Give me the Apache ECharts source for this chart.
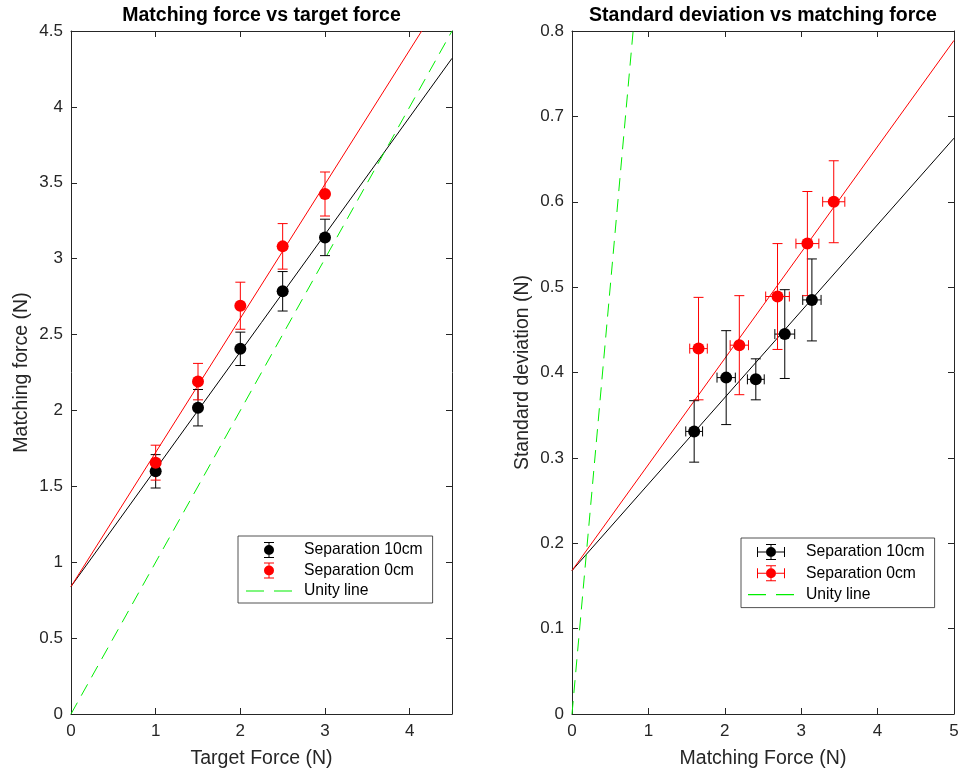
<!DOCTYPE html>
<html>
<head>
<meta charset="utf-8">
<script src="https://cdn.jsdelivr.net/npm/echarts@6/dist/echarts.min.js"></script>
<style>
html,body{margin:0;padding:0;background:#fff;}
#chart{width:966px;height:774px;}
</style>
</head>
<body>
<div id="chart"></div>
<script>
// ---- Data ----
const targetForce = [1, 1.5, 2, 2.5, 3];
const match10 = [1.599, 2.018, 2.406, 2.785, 3.140];
const match10Err = [0.11, 0.12, 0.11, 0.13, 0.12];
const match0 = [1.656, 2.190, 2.690, 3.081, 3.426];
const match0Err = [0.115, 0.12, 0.155, 0.15, 0.145];
const sd10 = [0.331, 0.394, 0.392, 0.445, 0.485];
const sd10Err = [0.036, 0.055, 0.024, 0.052, 0.048];
const sd0 = [0.428, 0.432, 0.489, 0.551, 0.600];
const sd0Err = [0.060, 0.058, 0.062, 0.061, 0.048];

// fitted / reference lines (endpoints)
const fit10LeftX = [0, 4.5];
const fit10LeftY = [0.840, 4.32];
const fit0LeftX = [0, 4.142];
const fit0LeftY = [0.840, 4.5];
const unityLeftX = [0, 4.5];
const unityLeftY = [0, 4.5];
const fit10RightX = [0, 5];
const fit10RightY = [0.168, 0.6745];
const fit0RightX = [0, 5];
const fit0RightY = [0.168, 0.789];
const unityRightX = [0, 0.8];
const unityRightY = [0, 0.8];

const seriesNames = ['Separation 10cm', 'Separation 0cm', 'Unity line'];

// ---- Helpers ----
const FONT = 'Liberation Sans, Helvetica, Arial, sans-serif';
const AX = '#262626';
function zip2(a, b) { return a.map((v, i) => [v, b[i]]); }
function zip4(a, b, c, d) { return a.map((v, i) => [v, b[i], c[i], d[i]]); }

function errRender(color, withX) {
  return function (params, api) {
    const x = api.value(0), y = api.value(1), ey = api.value(2), ex = api.value(3);
    const top = api.coord([x, y + ey]);
    const bot = api.coord([x, y - ey]);
    const cap = 5;
    const st = { stroke: color, lineWidth: 1 };
    const ch = [
      { type: 'line', shape: { x1: top[0], y1: top[1], x2: bot[0], y2: bot[1] }, style: st },
      { type: 'line', shape: { x1: top[0] - cap, y1: top[1], x2: top[0] + cap, y2: top[1] }, style: st },
      { type: 'line', shape: { x1: bot[0] - cap, y1: bot[1], x2: bot[0] + cap, y2: bot[1] }, style: st }
    ];
    if (withX) {
      const l = api.coord([x - ex, y]);
      const r = api.coord([x + ex, y]);
      ch.push(
        { type: 'line', shape: { x1: l[0], y1: l[1], x2: r[0], y2: r[1] }, style: st },
        { type: 'line', shape: { x1: l[0], y1: l[1] - cap, x2: l[0], y2: l[1] + cap }, style: st },
        { type: 'line', shape: { x1: r[0], y1: r[1] - cap, x2: r[0], y2: r[1] + cap }, style: st }
      );
    }
    return { type: 'group', children: ch };
  };
}

const ICON_V = 'path://M0,0h10v1h-10z M4.5,1h1v2h-1z M0,8a5,5 0 1,0 10,0a5,5 0 1,0 -10,0z M4.5,13h1v2h-1z M0,15h10v1h-10z';
const ICON_VH = 'path://M9,0h10v1h-10z M13.5,1h1v2h-1z M9,8a5,5 0 1,0 10,0a5,5 0 1,0 -10,0z M13.5,13h1v2h-1z M9,15h10v1h-10z M0,3h1v10h-1z M1,7.5h8v1h-8z M19,7.5h8v1h-8z M27,3h1v10h-1z';
const ICON_DASH = 'path://M0,0h18v1.1h-18z M28,0h18v1.1h-18z';

const lineOpt = { show: true, onZero: false, lineStyle: { color: AX, width: 1 } };
const tickOpt = { show: true, inside: true, length: 6, lineStyle: { color: AX } };

function mainX(grid, max, name, showMax) {
  return {
    type: 'value', gridIndex: grid, min: 0, max: max, interval: 1, position: 'bottom',
    name: name, nameLocation: 'middle', nameGap: 35,
    nameTextStyle: { fontFamily: FONT, fontSize: 19.5, color: AX },
    axisLine: lineOpt, axisTick: tickOpt,
    axisLabel: { fontFamily: FONT, fontSize: 17, color: AX, margin: 9, showMaxLabel: showMax, showMinLabel: true },
    splitLine: { show: false }
  };
}
function topX(grid, max, title) {
  return {
    type: 'value', gridIndex: grid, min: 0, max: max, interval: 1, position: 'top',
    name: title, nameLocation: 'middle', nameGap: 5,
    nameTextStyle: { fontFamily: FONT, fontSize: 19.5, fontWeight: 'bold', color: '#000', verticalAlign: 'bottom' },
    axisLine: lineOpt, axisTick: tickOpt,
    axisLabel: { show: false },
    splitLine: { show: false }
  };
}
function mainY(grid, max, interval, name) {
  return {
    type: 'value', gridIndex: grid, min: 0, max: max, interval: interval, position: 'left',
    name: name, nameLocation: 'middle', nameGap: 39, nameRotate: 90,
    nameTextStyle: { fontFamily: FONT, fontSize: 19.5, color: AX },
    axisLine: lineOpt, axisTick: tickOpt,
    axisLabel: { fontFamily: FONT, fontSize: 17, color: AX, margin: 8 },
    splitLine: { show: false }
  };
}
function rightY(grid, max, interval) {
  return {
    type: 'value', gridIndex: grid, min: 0, max: max, interval: interval, position: 'right',
    axisLine: lineOpt, axisTick: tickOpt,
    axisLabel: { show: false },
    splitLine: { show: false }
  };
}

function lineSeries(name, xi, yi, xs, ys, color, dashed) {
  return {
    type: 'line', name: name, xAxisIndex: xi, yAxisIndex: yi,
    data: zip2(xs, ys), symbol: 'none', showSymbol: false, silent: true,
    lineStyle: { color: color, width: 1, type: dashed ? [13, 8] : 'solid' },
    itemStyle: { color: color }, z: 3, animation: false
  };
}
function errSeries(name, xi, yi, xs, ys, ey, ex, color, withX) {
  return {
    type: 'custom', name: name, xAxisIndex: xi, yAxisIndex: yi,
    data: zip4(xs, ys, ey, ex), renderItem: errRender(color, withX),
    itemStyle: { color: color }, z: 4, silent: true, animation: false,
    encode: { x: 0, y: 1 }
  };
}
function dotSeries(name, xi, yi, xs, ys, color) {
  return {
    type: 'scatter', name: name, xAxisIndex: xi, yAxisIndex: yi,
    data: zip2(xs, ys), symbol: 'circle', symbolSize: 12,
    itemStyle: { color: color, opacity: 1 }, z: 5, silent: true, animation: false
  };
}

function legend(left, top, icon, gap, padding) {
  return {
    orient: 'vertical', left: left, top: top,
    itemWidth: 46, itemHeight: 16, itemGap: gap,
    padding: padding, borderColor: AX, borderWidth: 0.8, backgroundColor: '#fff',
    selectedMode: false,
    textStyle: { fontFamily: FONT, fontSize: 15.7, color: '#000', lineHeight: 16, padding: [0, 0, 0, 7] },
    data: [
      { name: seriesNames[0], icon: icon, itemStyle: { color: '#000' } },
      { name: seriesNames[1], icon: icon, itemStyle: { color: '#ff0000' } },
      { name: seriesNames[2], icon: ICON_DASH, itemStyle: { color: '#00ee00' } }
    ]
  };
}

const chart = echarts.init(document.getElementById('chart'), null, { renderer: 'canvas' });
chart.setOption({
  animation: false,
  backgroundColor: '#fff',
  grid: [
    { left: 71, top: 31, width: 381, height: 684 },
    { left: 572, top: 31, width: 382, height: 684 }
  ],
  xAxis: [
    mainX(0, 4.5, 'Target Force (N)', false),
    topX(0, 4.5, 'Matching force vs target force'),
    mainX(1, 5, 'Matching Force (N)', true),
    topX(1, 5, 'Standard deviation vs matching force')
  ],
  yAxis: [
    mainY(0, 4.5, 0.5, 'Matching force (N)'),
    rightY(0, 4.5, 0.5),
    mainY(1, 0.8, 0.1, 'Standard deviation (N)'),
    rightY(1, 0.8, 0.1)
  ],
  legend: [
    legend(238, 536, ICON_V, 4.5, [6, 10, 4, 8]),
    legend(741, 538, ICON_VH, 5.3, [6, 10, 5, 7])
  ],
  series: [
    // left panel
    lineSeries('fit10L', 0, 0, fit10LeftX, fit10LeftY, '#000000', false),
    lineSeries('fit0L', 0, 0, fit0LeftX, fit0LeftY, '#ff0000', false),
    lineSeries(seriesNames[2], 0, 0, unityLeftX, unityLeftY, '#00ee00', true),
    errSeries(seriesNames[0], 0, 0, targetForce, match10, match10Err, match10Err, '#000000', false),
    dotSeries(seriesNames[0], 0, 0, targetForce, match10, '#000000'),
    errSeries(seriesNames[1], 0, 0, targetForce, match0, match0Err, match0Err, '#ff0000', false),
    dotSeries(seriesNames[1], 0, 0, targetForce, match0, '#ff0000'),
    // right panel
    lineSeries('fit10R', 2, 2, fit10RightX, fit10RightY, '#000000', false),
    lineSeries('fit0R', 2, 2, fit0RightX, fit0RightY, '#ff0000', false),
    lineSeries(seriesNames[2], 2, 2, unityRightX, unityRightY, '#00ee00', true),
    errSeries(seriesNames[0], 2, 2, match10, sd10, sd10Err, match10Err, '#000000', true),
    dotSeries(seriesNames[0], 2, 2, match10, sd10, '#000000'),
    errSeries(seriesNames[1], 2, 2, match0, sd0, sd0Err, match0Err, '#ff0000', true),
    dotSeries(seriesNames[1], 2, 2, match0, sd0, '#ff0000')
  ]
});
</script>
</body>
</html>
